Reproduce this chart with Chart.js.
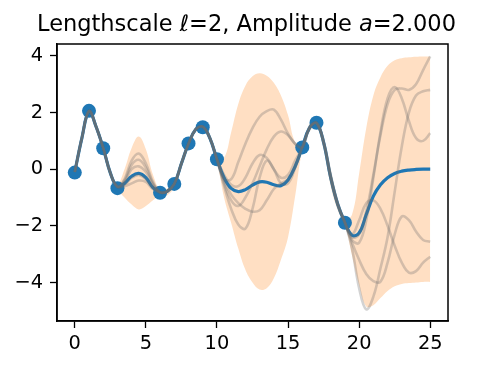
<!DOCTYPE html>
<html><head><meta charset="utf-8">
<script src="https://cdn.jsdelivr.net/npm/chart.js@4"></script>
<style>html,body{margin:0;padding:0;background:#fff}canvas{display:block}</style>
</head><body>
<canvas id="c" width="491" height="369"></canvas>
<script>
const xGrid = [0,0.5,1,1.5,2,2.5,3,3.5,4,4.5,5,5.5,6,6.5,7,7.5,8,8.5,9,9.5,10,10.5,11,11.5,12,12.5,13,13.5,14,14.5,15,15.5,16,16.5,17,17.5,18,18.5,19,19.5,20,20.5,21,21.5,22,22.5,23,23.5,24,24.5,25];
const meanY = [-0.1,1.1,2.05,1.5,0.75,-0.13,-0.62,-0.5,-0.25,-0.15,-0.3,-0.65,-0.82,-0.78,-0.52,0.2,0.9,1.4,1.5,1.1,0.35,-0.3,-0.68,-0.79,-0.72,-0.56,-0.45,-0.46,-0.55,-0.58,-0.38,0.1,0.77,1.45,1.63,0.95,-0.3,-1.25,-1.88,-2.33,-2.25,-1.6,-0.95,-0.55,-0.3,-0.15,-0.07,-0.03,-0.01,0.0,0.0];
const upperY = [0.0,1.25,2.15,1.62,0.85,-0.03,-0.52,0.0,0.75,1.15,0.7,-0.2,-0.72,-0.68,-0.42,0.32,1.0,1.5,1.6,1.22,0.45,0.4,1.3,2.3,2.95,3.28,3.39,3.3,3.05,2.6,1.9,0.95,0.87,1.6,1.73,1.1,0.0,-1.05,-1.78,-1.6,-0.15,1.45,2.6,3.25,3.65,3.85,3.92,3.95,3.97,3.98,3.98];
const lowerY = [-0.2,0.95,1.95,1.38,0.65,-0.27,-0.72,-1.0,-1.25,-1.42,-1.3,-1.1,-0.92,-0.92,-0.62,0.08,0.8,1.3,1.4,0.98,0.25,-1.0,-1.9,-2.8,-3.55,-4.0,-4.25,-4.2,-3.85,-3.2,-2.4,-0.95,0.67,1.3,1.53,0.8,-0.6,-1.45,-1.98,-3.05,-4.1,-4.85,-4.8,-4.55,-4.3,-4.13,-4.05,-4.02,-4.0,-3.98,-3.98];
const sampleA = [-0.1,1.1,2.05,1.5,0.75,-0.13,-0.62,-0.35,0.3,0.55,0.2,-0.45,-0.82,-0.78,-0.52,0.2,0.9,1.4,1.5,1.1,0.35,-0.35,-0.35,0.25,0.9,1.45,1.85,2.05,2.1,1.75,1.25,0.9,0.77,1.45,1.63,0.95,-0.25,-1.25,-1.88,-2.4,-2.3,-1.5,-0.2,1.2,2.3,2.8,2.85,2.8,3.0,3.5,3.98];
const sampleB = [-0.1,1.1,2.05,1.5,0.75,-0.13,-0.62,-0.4,0.15,0.33,0.05,-0.5,-0.82,-0.78,-0.52,0.2,0.9,1.4,1.5,1.1,0.35,-0.5,-1.1,-1.3,-1.0,-0.5,0.1,0.7,1.15,1.33,1.2,0.9,0.77,1.45,1.63,0.9,-0.35,-1.3,-1.9,-2.5,-2.6,-1.8,-0.3,1.3,2.5,2.9,2.5,1.7,1.1,1.0,1.27];
const sampleC = [-0.1,1.1,2.05,1.5,0.75,-0.13,-0.62,-0.45,0.0,0.1,-0.1,-0.55,-0.82,-0.78,-0.52,0.2,0.9,1.4,1.5,1.1,0.35,-0.6,-1.4,-1.95,-2.1,-1.4,-0.3,0.3,0.0,-0.5,-0.5,0.05,0.77,1.45,1.63,1.0,-0.2,-1.2,-1.88,-2.8,-4.2,-4.95,-4.5,-3.5,-2.4,-0.8,0.8,2.0,2.6,2.75,2.8];
const sampleD = [-0.1,1.1,2.05,1.5,0.75,-0.13,-0.62,-0.6,-0.5,-0.4,-0.45,-0.7,-0.82,-0.78,-0.52,0.2,0.9,1.4,1.5,1.1,0.35,-0.4,-0.9,-1.2,-1.4,-1.5,-1.45,-1.1,-0.7,-0.5,-0.35,0.1,0.77,1.45,1.63,0.95,-0.3,-1.25,-1.88,-2.6,-3.2,-3.7,-3.95,-3.97,-3.3,-2.3,-1.67,-1.8,-2.2,-2.5,-2.56];
const sampleE = [-0.1,1.1,2.05,1.5,0.75,-0.13,-0.62,-0.55,-0.3,-0.2,-0.35,-0.65,-0.82,-0.78,-0.52,0.2,0.9,1.4,1.5,1.1,0.35,-0.2,-0.55,-0.6,-0.3,0.2,0.5,0.4,0.0,-0.3,-0.2,0.3,0.77,1.45,1.63,0.95,-0.3,-1.25,-1.88,-2.3,-1.8,-1.2,-1.1,-1.4,-2.0,-2.7,-3.3,-3.65,-3.6,-3.3,-3.09];
const obsX = [0,1,2,3,6,7,8,9,10,16,17,19];
const obsY = [-0.12,2.06,0.74,-0.67,-0.83,-0.52,0.91,1.48,0.35,0.77,1.64,-1.89];
const xTicks = [0,5,10,15,20,25];
const yTicks = [-4,-2,0,2,4];

const pts = ys => xGrid.map((x,i)=>({x:x,y:ys[i]}));
const gray = 'rgba(110,110,110,0.3)';
const sample = (ys) => ({type:'line', data:pts(ys), borderColor:gray, borderWidth:2.6, pointRadius:0, tension:0.4, fill:false, order:1});

const boxPlugin = {
  id:'box',
  afterDraw(chart){
    const a = chart.chartArea, ctx = chart.ctx;
    ctx.save();
    ctx.strokeStyle='#000'; ctx.lineWidth=1.5;
    ctx.strokeRect(a.left, a.top, a.right-a.left, a.bottom-a.top);
    const parts = [['Lengthscale ',''],['ℓ',''],['=2, Amplitude ',''],['a','italic '],['=2.000','']];
    const size = 22.5;
    let total = 0;
    parts.forEach(p=>{ctx.font = p[1]+size+'px "DejaVu Sans"'; total += ctx.measureText(p[0]).width;});
    let x = 246.5 - total/2;
    ctx.fillStyle='#000'; ctx.textBaseline='alphabetic'; ctx.textAlign='left';
    parts.forEach(p=>{ctx.font = p[1]+size+'px "DejaVu Sans"'; ctx.fillText(p[0], x, 31); x += ctx.measureText(p[0]).width;});
    ctx.restore();
  }
};

const fmt = v => (v<0 ? '\u2212'+Math.abs(v) : ''+v);

new Chart(document.getElementById('c'), {
  type:'scatter',
  data:{datasets:[
    {type:'line', data:pts(upperY), borderWidth:0, borderColor:'rgba(0,0,0,0)', backgroundColor:'rgba(255,223,195,1)', pointRadius:0, tension:0.4, fill:'+1', order:10},
    {type:'line', data:pts(lowerY), borderWidth:0, borderColor:'rgba(0,0,0,0)', pointRadius:0, tension:0.4, fill:false, order:9},
    {type:'scatter', data:obsX.map((x,i)=>({x:x,y:obsY[i]})), backgroundColor:'#1f77b4', borderColor:'#1f77b4', pointRadius:7, borderWidth:0, order:8},
    {type:'line', data:pts(meanY), borderColor:'#1f77b4', borderWidth:3.2, pointRadius:0, tension:0.4, fill:false, order:7},
    sample(sampleA), sample(sampleB), sample(sampleC), sample(sampleD), sample(sampleE)
  ]},
  options:{
    responsive:false, animation:false, devicePixelRatio:1,
    layout:{padding:{left:0,right:43,top:44,bottom:0}},
    plugins:{legend:{display:false}, tooltip:{enabled:false}, title:{display:false}},
    scales:{
      x:{type:'linear', min:-1.25, max:26.25,
         afterBuildTicks(s){s.ticks = xTicks.map(v=>({value:v}));},
         afterFit(s){s.height = 48;},
         ticks:{callback:fmt, color:'#000', font:{family:'DejaVu Sans', size:19.4}, padding:4, maxRotation:0, autoSkip:false},
         grid:{drawOnChartArea:false, drawTicks:true, tickLength:7, tickColor:'#000', tickWidth:1.3},
         border:{display:true, color:'#000', width:1.5}},
      y:{type:'linear', min:-5.36, max:4.42,
         afterBuildTicks(s){s.ticks = yTicks.map(v=>({value:v}));},
         afterFit(s){s.width = 57;},
         ticks:{callback:fmt, color:'#000', font:{family:'DejaVu Sans', size:19.4}, padding:7, autoSkip:false},
         grid:{drawOnChartArea:false, drawTicks:true, tickLength:7, tickColor:'#000', tickWidth:1.3},
         border:{display:true, color:'#000', width:1.5}}
    }
  },
  plugins:[boxPlugin]
});
</script>
</body></html>
